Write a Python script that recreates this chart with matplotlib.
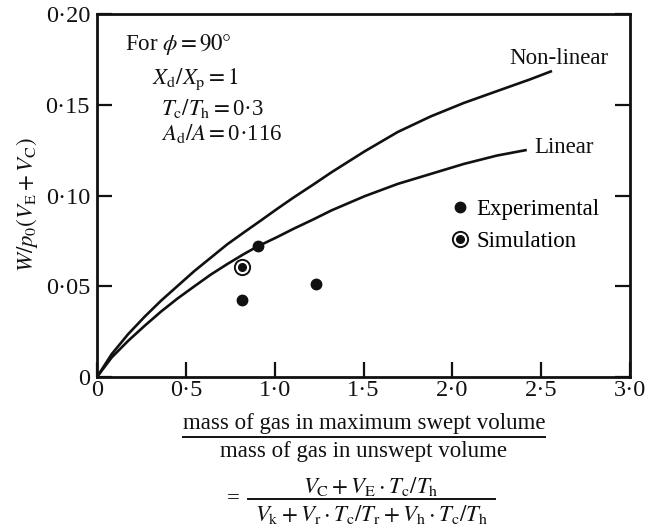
import matplotlib
matplotlib.use("Agg")
import matplotlib.pyplot as plt
from matplotlib.lines import Line2D

plt.rcParams['font.family'] = ['Liberation Serif', 'DejaVu Serif']
plt.rcParams['mathtext.fontset'] = 'stix'

# curves
nonlin_x = [0, 0.082, 0.175, 0.268, 0.361, 0.454, 0.547, 0.640, 0.733, 0.826, 0.919,
            1.012, 1.105, 1.217, 1.320, 1.506, 1.693, 1.879, 2.065, 2.251, 2.438, 2.561]
nonlin_y = [0, 0.0125, 0.0236, 0.0332, 0.0421, 0.0502, 0.0583, 0.0657, 0.0731, 0.0796, 0.0860,
            0.0925, 0.0988, 0.1060, 0.1128, 0.1243, 0.1350, 0.1436, 0.1510, 0.1575, 0.1640, 0.1686]
lin_x = [0, 0.082, 0.175, 0.268, 0.361, 0.454, 0.547, 0.640, 0.733, 0.826, 0.901,
         1.012, 1.105, 1.217, 1.320, 1.506, 1.693, 1.879, 2.065, 2.251, 2.419]
lin_y = [0, 0.0107, 0.0199, 0.0282, 0.0361, 0.0433, 0.0499, 0.0564, 0.0622, 0.0677, 0.0718,
         0.0770, 0.0816, 0.0868, 0.0918, 0.0996, 0.1064, 0.1119, 0.1174, 0.1220, 0.1251]

# measured points
exp_x = [0.905, 0.815, 1.23]
exp_y = [0.0724, 0.0425, 0.0514]
sim_x = [0.815]
sim_y = [0.0605]

xticks = [0, 0.5, 1.0, 1.5, 2.0, 2.5, 3.0]
xlabels = ['0', '0·5', '1·0', '1·5', '2·0', '2·5', '3·0']
yticks = [0, 0.05, 0.10, 0.15, 0.20]
ylabels = ['0', '0·05', '0·10', '0·15', '0·20']

ink = '#111111'
fs = 16.5
tfs = 17.5

fig = plt.figure(figsize=(6.54, 5.29), dpi=100)
ax = fig.add_axes([97/654, 1-377/529, 533/654, 363/529])

ax.plot(nonlin_x, nonlin_y, color=ink, lw=1.9, solid_capstyle='butt')
ax.plot(lin_x, lin_y, color=ink, lw=1.9, solid_capstyle='butt')
ax.plot(exp_x, exp_y, 'o', color=ink, ms=7.5, mec=ink)
ax.plot(sim_x, sim_y, 'o', mfc='white', mec=ink, ms=11, mew=1.4)
ax.plot(sim_x, sim_y, 'o', color=ink, ms=5.5)

ax.set_xlim(0, 3.0)
ax.set_ylim(0, 0.20)
ax.set_xticks(xticks)
ax.set_xticklabels(xlabels)
ax.set_yticks(yticks)
ax.set_yticklabels(ylabels)
ax.tick_params(direction='in', length=11, width=1.6, labelsize=tfs, colors=ink, pad=5)
ax.tick_params(axis='y', right=True)
ax.tick_params(axis='x', pad=2)
for s in ax.spines.values():
    s.set_linewidth(2)
    s.set_color(ink)

# curve labels
ax.text(2.32, 0.1755, 'Non-linear', fontsize=fs, color=ink, va='center')
ax.text(2.46, 0.1265, 'Linear', fontsize=fs, color=ink, va='center')

# parameter block
ax.text(0.155, 0.1830, r'For $\phi = 90°$', fontsize=fs, color=ink, va='center')
ax.text(0.31, 0.1640, r'$X_\mathrm{d}/X_\mathrm{p} = 1$', fontsize=fs, color=ink, va='center')
ax.text(0.36, 0.1480, r'$T_\mathrm{c}/T_\mathrm{h} = $0·3', fontsize=fs, color=ink, va='center')
ax.text(0.36, 0.1340, r'$A_\mathrm{d}/A = $0·116', fontsize=fs, color=ink, va='center')

h_exp = Line2D([], [], ls='none', marker='o', color=ink, ms=7.5)
h_ring = Line2D([], [], ls='none', marker='o', mfc='white', mec=ink, ms=11, mew=1.4)
h_dot = Line2D([], [], ls='none', marker='o', color=ink, ms=5.5)
ax.legend([h_exp, (h_ring, h_dot)], ['Experimental', 'Simulation'],
          loc='upper left', bbox_to_anchor=(0.663, 0.49), frameon=False,
          fontsize=fs, handlelength=0.8, handletextpad=0.35, labelspacing=0.45,
          borderpad=0, borderaxespad=0)

# y label
fig.text(27/654, 1-205/529, r'$W/p_0(V_\mathrm{E}+V_\mathrm{C})$', rotation=90,
         fontsize=fs, color=ink, ha='center', va='center')

# x label as two stacked fractions
fig.text(364/654, 1-423/529, 'mass of gas in maximum swept volume', fontsize=fs,
         color=ink, ha='center', va='center')
fig.add_artist(Line2D([183/654, 545/654], [1-437/529, 1-437/529], color=ink, lw=1.4))
fig.text(364/654, 1-452/529, 'mass of gas in unswept volume', fontsize=fs,
         color=ink, ha='center', va='center')

fig.text(233/654, 1-499/529, '=', fontsize=fs, color=ink, ha='center', va='center')
fig.text(371/654, 1-486/529, r'$V_\mathrm{C}+V_\mathrm{E}\cdot T_\mathrm{c}/T_\mathrm{h}$',
         fontsize=fs, color=ink, ha='center', va='center')
fig.add_artist(Line2D([248/654, 495/654], [1-499/529, 1-499/529], color=ink, lw=1.4))
fig.text(371/654, 1-514/529,
         r'$V_\mathrm{k}+V_\mathrm{r}\cdot T_\mathrm{c}/T_\mathrm{r}+V_\mathrm{h}\cdot T_\mathrm{c}/T_\mathrm{h}$',
         fontsize=fs, color=ink, ha='center', va='center')

fig.savefig('out.png', dpi=100, facecolor='white')
